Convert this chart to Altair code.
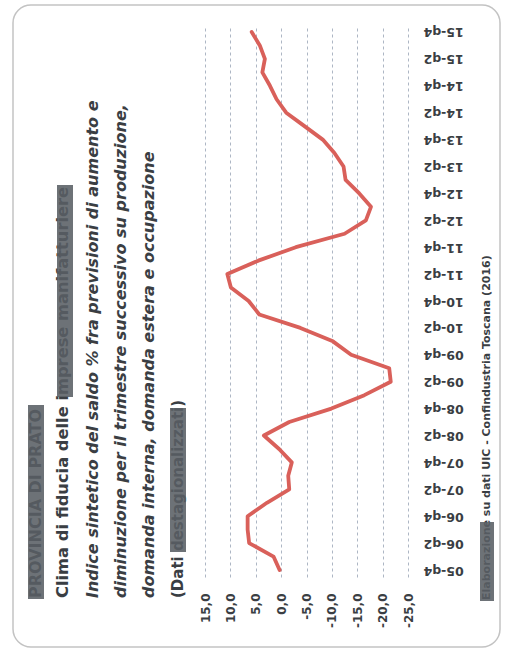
import altair as alt
import pandas as pd

# Quarterly periods, 2005 Q4 to 2015 Q4
periods = [
    "05-q4",
    "06-q1", "06-q2", "06-q3", "06-q4",
    "07-q1", "07-q2", "07-q3", "07-q4",
    "08-q1", "08-q2", "08-q3", "08-q4",
    "09-q1", "09-q2", "09-q3", "09-q4",
    "10-q1", "10-q2", "10-q3", "10-q4",
    "11-q1", "11-q2", "11-q3", "11-q4",
    "12-q1", "12-q2", "12-q3", "12-q4",
    "13-q1", "13-q2", "13-q3", "13-q4",
    "14-q1", "14-q2", "14-q3", "14-q4",
    "15-q1", "15-q2", "15-q3", "15-q4",
]

# Confidence index (seasonally adjusted balance, %)
clima = [
    0.3,
    1.5, 6.3, 6.6, 6.6,
    2.8, -1.6, -1.4, -2.1,
    0.4, 3.4, -1.6, -9.9,
    -16.4, -21.6, -21.3, -13.8,
    -10.2, -3.8, 4.3, 6.4,
    9.9, 10.6, 4.5, -2.9,
    -12.5, -16.7, -17.7, -15.4,
    -12.7, -12.3, -10.5, -8.2,
    -4.6, -1.0, 0.9, 2.2,
    3.7, 3.2, 4.2, 5.8,
]

tick_periods = [
    "05-q4", "06-q2", "06-q4", "07-q2", "07-q4", "08-q2", "08-q4",
    "09-q2", "09-q4", "10-q2", "10-q4", "11-q2", "11-q4", "12-q2",
    "12-q4", "13-q2", "13-q4", "14-q2", "14-q4", "15-q2", "15-q4",
]
value_ticks = [-25, -20, -15, -10, -5, 0, 5, 10, 15]

title_lines = [
    "PROVINCIA DI PRATO",
    "Clima di fiducia delle imprese manifatturiere",
    "Indice sintetico del saldo % fra previsioni di aumento e",
    "diminuzione per il trimestre successivo su produzione,",
    "domanda interna, domanda estera e occupazione",
    "(Dati destagionalizzati)",
]
source_note = "Elaborazione su dati UIC - Confindustria Toscana (2016)"

df = pd.DataFrame({"trimestre": periods, "saldo": clima})
df["ordine"] = range(len(df))

FONT = "DejaVu Sans"
INK = "#3a3e43"
MARKER = "#595e64"

# plot area and the margins around it
W, H = 203, 552
LEFT, TOP = 205, 25

x_scale = alt.Scale(domain=[-25, 15], reverse=True, nice=False, zero=False)
y_scale = alt.Scale(type="point", domain=periods[::-1], padding=0.52)

line = alt.Chart(df).mark_line(
    color="#d9605a", strokeWidth=3.8, strokeJoin="round", strokeCap="round"
).encode(
    x=alt.X(
        "saldo:Q",
        scale=x_scale,
        axis=alt.Axis(
            values=value_ticks,
            orient="bottom",
            labelAngle=270,
            labelAlign="right",
            labelBaseline="middle",
            labelExpr="(datum.value < 0 ? '-' : '') + abs(datum.value) + ',0'",
            ticks=False,
            tickSize=0,
            domain=False,
            grid=True,
            gridDash=[3, 3],
            gridColor="#adb6c4",
            gridWidth=1,
            labelPadding=16,
            labelFont=FONT,
            labelFontSize=12,
            labelFontWeight="bold",
            labelColor=INK,
            title=None,
        ),
    ),
    y=alt.Y(
        "trimestre:O",
        scale=y_scale,
        axis=alt.Axis(
            values=tick_periods,
            orient="right",
            labelAngle=180,
            labelAlign="right",
            labelBaseline="middle",
            ticks=False,
            tickSize=0,
            domain=False,
            grid=False,
            labelPadding=15,
            labelFont=FONT,
            labelFontSize=12.5,
            labelFontWeight="bold",
            labelColor=INK,
            title=None,
        ),
    ),
    order=alt.Order("ordine:Q"),
)

one_row = alt.Data(values=[{}])


def vertical_text(txt, px, py, size, style="normal"):
    """Text reading bottom-to-top, starting at page point (px, py)."""
    return alt.Chart(one_row).mark_text(
        text=txt, angle=270, align="left", baseline="middle",
        font=FONT, fontSize=size, fontStyle=style, fontWeight="bold", color=INK,
    ).encode(x=alt.value(px - LEFT), y=alt.value(py - TOP))


def marker_box(x0, x1, y0, y1):
    """Highlighter stroke over a piece of text, in page coordinates."""
    return alt.Chart(one_row).mark_rect(color=MARKER, opacity=0.88).encode(
        x=alt.value(x0 - LEFT), x2=alt.value(x1 - LEFT),
        y=alt.value(y0 - TOP), y2=alt.value(y1 - TOP),
    )


card = alt.Chart(one_row).mark_rect(
    filled=False, stroke="#c3c3c3", strokeWidth=1.5, cornerRadius=18
).encode(
    x=alt.value(13 - LEFT), x2=alt.value(500 - LEFT),
    y=alt.value(5 - TOP), y2=alt.value(647 - TOP),
)

texts = [
    vertical_text(title_lines[0], 36, 598, 16),
    vertical_text(title_lines[1], 63, 598, 16.3),
    vertical_text(title_lines[2], 93, 598, 16, "italic"),
    vertical_text(title_lines[3], 121, 598, 16, "italic"),
    vertical_text(title_lines[4], 149, 598, 16, "italic"),
    vertical_text(title_lines[5], 178, 598, 15),
    vertical_text(source_note, 487, 600, 11),
]

boxes = [
    marker_box(28, 44, 405, 599),
    marker_box(57, 73, 185, 397),
    marker_box(170, 186, 408, 552),
    marker_box(480, 494, 522, 601),
]

chart = alt.layer(card, line, *texts, *boxes).properties(
    width=W,
    height=H,
    padding={"left": LEFT, "top": TOP, "right": 506 - LEFT - W, "bottom": 661 - TOP - H},
    autosize="none",
    background="#ffffff",
).configure_view(stroke=None)

chart.save("out.html", embed_options={"renderer": "svg", "actions": False})
